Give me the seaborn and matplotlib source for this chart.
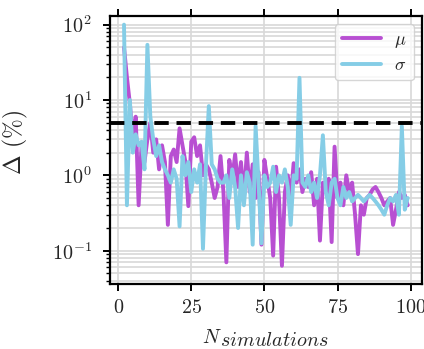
import numpy as np
import pandas as pd
import seaborn as sns
import matplotlib
matplotlib.use("Agg")
import matplotlib.pyplot as plt
from matplotlib.ticker import LogLocator, FuncFormatter, NullFormatter


N_SIM = list(range(2, 100))

MU_DELTA = [
    50, 20, 9, 3, 6, 0.4, 2.5, 1.5, 3, 5,
    2, 3, 1.2, 2.5, 1.5, 0.22, 1.8, 2.2, 1.5, 4.2,
    2.5, 1.5, 0.39, 2.8, 3.2, 1.8, 2.5, 1.0, 1.4, 1.2,
    0.8, 0.5, 0.7, 1.8, 0.6, 0.07, 1.6, 0.9, 1.9, 0.7,
    1.5, 0.5, 2.0, 0.6, 1.4, 0.5, 1.1, 0.12, 1.6, 0.9,
    0.5, 0.086, 1.3, 0.5, 0.063, 0.6, 1.0, 0.5, 1.45, 0.8,
    1.2, 0.6, 0.9, 0.7, 1.1, 0.4, 0.9, 0.136, 0.8, 0.6,
    0.9, 0.13, 2.4, 0.5, 0.8, 0.4, 1.0, 0.6, 0.8, 0.3,
    0.09, 0.4, 0.3, 0.5, 0.55, 0.65, 0.7, 0.6, 0.5, 0.4,
    0.45, 0.5, 0.22, 0.35, 0.6, 0.5, 0.55, 0.4,
]

SIGMA_DELTA = [
    100, 0.4, 10, 2, 3.5, 2.5, 2.8, 1.2, 54, 6,
    3, 1.8, 2.5, 1.5, 1.2, 1.0, 0.8, 1.2, 0.9, 0.21,
    1.8, 1.0, 1.5, 0.6, 1.2, 0.8, 1.4, 0.106, 1.3, 8.3,
    1.4, 1.2, 0.9, 0.8, 0.8, 1.0, 0.5, 1.2, 0.7, 0.2,
    1.0, 0.4, 1.1, 0.8, 0.12, 4.5, 0.8, 0.125, 1.0, 0.7,
    0.8, 1.3, 0.6, 1.0, 0.8, 1.2, 0.7, 0.22, 1.0, 0.9,
    19.7, 0.8, 0.7, 1.0, 0.6, 0.8, 0.5, 1.0, 3.4, 0.6,
    0.4, 0.8, 0.9, 0.5, 0.4, 0.7, 0.5, 0.6, 0.45, 0.5,
    0.55, 0.5, 0.45, 0.5, 0.55, 0.5, 0.45, 0.4, 0.35, 0.3,
    0.4, 0.5, 0.45, 0.55, 0.3, 4.5, 0.35, 0.5,
]

THRESHOLD = 5
X_TICKS = [0, 25, 50, 75, 100]
LABELS = [r"$\mu$", r"$\sigma$"]
COLORS = ["#b84fd2", "#85cde6"]


def main() -> None:
    sns.set_style("white")
    plt.rcParams["font.family"] = ["cmr10", "DejaVu Serif"]
    plt.rcParams["mathtext.fontset"] = "cm"
    plt.rcParams["axes.formatter.use_mathtext"] = True
    plt.rcParams["font.size"] = 14.5

    df = pd.DataFrame({
        "n": N_SIM * 2,
        "delta": MU_DELTA + SIGMA_DELTA,
        "param": [LABELS[0]] * len(N_SIM) + [LABELS[1]] * len(N_SIM),
    })

    fig = plt.figure(figsize=(4.24, 3.49), dpi=100)
    ax = fig.add_axes([0.259, 0.186, 0.736, 0.768])

    sns.lineplot(
        data=df, x="n", y="delta", hue="param",
        palette=dict(zip(LABELS, COLORS)), linewidth=2.8, ax=ax,
    )
    ax.axhline(THRESHOLD, color="black", linestyle=(0, (3.7, 2.0)),
               linewidth=2.8, zorder=3)

    ax.set_yscale("log")
    ax.set_ylim(0.036, 130)
    ax.set_xticks(X_TICKS)
    ax.xaxis.set_major_formatter(FuncFormatter(lambda v, _: rf"$\mathdefault{{{int(v)}}}$"))
    ax.yaxis.set_major_locator(LogLocator(base=10, numticks=10))
    ax.yaxis.set_minor_locator(LogLocator(base=10, subs=np.arange(2, 10), numticks=10))
    ax.yaxis.set_minor_formatter(NullFormatter())

    ax.grid(True, which="major", color="#d8d8d8", linewidth=1.2)
    ax.grid(True, which="minor", axis="y", color="#d8d8d8", linewidth=1.2)
    ax.set_axisbelow(True)

    for side in ["left", "bottom", "top", "right"]:
        ax.spines[side].set_color("black")
        ax.spines[side].set_linewidth(1.6)
    ax.tick_params(which="major", direction="out", length=5, width=1.4,
                   color="black", bottom=True, left=True, labelsize=14.5)
    # outward ticks on the top spine as well, without labels
    ax.tick_params(axis="x", which="major", top=True, labeltop=False, pad=6)
    ax.tick_params(axis="y", which="major", pad=8)
    ax.tick_params(axis="y", which="minor", direction="out", length=3,
                   width=1.0, color="black", left=True)

    # x label: N with a full-size lowered italic subscript
    ax.set_xlabel("")
    ax.annotate(r"$N$", xy=(0.295, 0), xycoords="axes fraction",
                xytext=(0, -59), textcoords="offset pixels",
                ha="left", va="baseline", fontsize=14.5)
    ax.annotate(r"$simulations$", xy=(0.352, 0), xycoords="axes fraction",
                xytext=(0, -62), textcoords="offset pixels",
                ha="left", va="baseline", fontsize=14.5)
    ax.set_ylabel(r"$\Delta$ (%)", fontsize=17)
    ax.yaxis.set_label_coords(-0.255, 0.53)

    leg = ax.legend(loc="upper right", fontsize=13, frameon=True,
                    handlelength=2.2, handletextpad=0.7, borderpad=0.4,
                    labelspacing=0.4, borderaxespad=0.45)
    leg.get_frame().set_edgecolor("#cccccc")
    for line in leg.get_lines():
        line.set_linewidth(2.8)

    fig.savefig("out.png", dpi=100)


if __name__ == "__main__":
    main()
